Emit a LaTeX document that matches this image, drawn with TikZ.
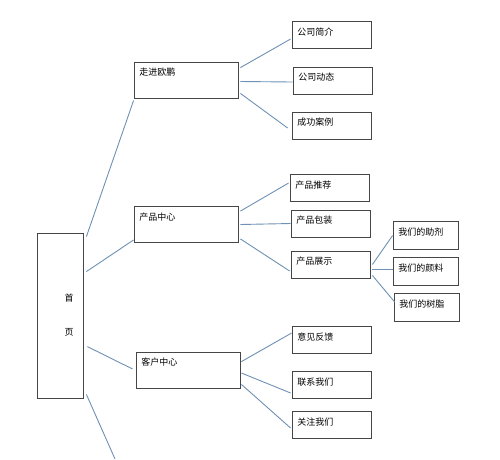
\documentclass[tikz,border=0pt]{standalone}
\usepackage{fontspec}
\setmainfont{Noto Sans CJK SC}
\usepackage{tikz}
\usetikzlibrary{calc}

\definecolor{linkblue}{RGB}{110,145,180}
\definecolor{boxgray}{RGB}{70,70,70}

\tikzset{
  box/.style={draw=boxgray,line width=0.8pt,rectangle,inner sep=0pt,
    label={[anchor=north west,inner sep=0pt,xshift=5.5pt,yshift=-6.5pt,
      font=\fontsize{9}{10}\selectfont]north west:#1}},
  main/.style={box=#1,minimum width=104pt,minimum height=36pt},
  leaf/.style={box=#1,minimum width=79pt,minimum height=27pt},
  subleaf/.style={box=#1,minimum width=65pt,minimum height=28pt},
  rootbox/.style={draw=boxgray,line width=0.8pt,rectangle,
    minimum width=46pt,minimum height=165pt},
  link/.style={draw=linkblue,line width=0.9pt}
}

\begin{document}
\begin{tikzpicture}[x=1pt,y=-1pt]
\useasboundingbox (0,0) rectangle (500,459);

% home
\node [rootbox,label={[xshift=9pt,align=center,font=\fontsize{9}{10}\selectfont]center:首\\[24pt]页}] (home) at(60,315.5){};
\coordinate (tail) at (115,459);

% first level
\node [main=走进欧鹏] (about) at(186,80){};
\node [main=产品中心] (product) at(186,224.5){};
\node [main=客户中心] (client) at(188,370){};

\node [leaf=公司简介] (intro) at(331.5,35){};
\node [leaf=公司动态] (news) at(332.5,80.5){};
\node [leaf=成功案例] (cases) at(331.5,125.5){};

\node [leaf=产品推荐] (recom) at(329.5,188){};
\node [leaf=产品包装] (pack) at(330.5,223.5){};
\node [leaf=产品展示] (show) at(330.5,264.5){};

\node [subleaf=我们的助剂] (additive) at(425.5,235.5){};
\node [subleaf=我们的颜料] (pigment) at(425.5,271.5){};
\node [subleaf=我们的树脂] (resin) at(426.5,307.5){};

\node [leaf=意见反馈] (feedback) at(331.5,340){};
\node [leaf=联系我们] (contact) at(331.5,385){};
\node [leaf=关注我们] (follow) at(331.5,425){};

% links
\draw [link] ($(home.north east)+(3,4)$) -- ($(about.south west)+(0,2)$);
\draw [link] ($(home.north east)+(3,39)$) -- ($(product.south west)+(0,-3)$);
\draw [link] ($(home.north east)+(4,114)$) -- ($(client.west)+(-3,-1)$);
\draw [link] ($(home.south east)+(3,-4)$) -- (tail);

\draw [link] ($(about.north east)+(2,6)$) -- ($(intro.west)+(-1,4)$);
\draw [link] ($(about.east)+(2,1.5)$) -- ($(news.west)+(0,1.5)$);
\draw [link] ($(about.south east)+(2,-5)$) -- ($(cases.west)+(-4,2.5)$);

\draw [link] ($(product.north east)+(2,5)$) -- ($(recom.west)+(-1,-5)$);
\draw [link] ($(product.east)+(2,0)$) -- (pack.west);
\draw [link] ($(product.south east)+(2,-4)$) -- ($(show.west)+(-1,6.5)$);

\draw [link] ($(show.east)+(2,0)$) -- (additive.west);
\draw [link] ($(show.east)+(2,4.5)$) -- ($(pigment.west)+(0,-2.5)$);
\draw [link] ($(show.south east)+(2,-3)$) -- ($(resin.west)+(1,-5.5)$);

\draw [link] ($(client.north east)+(1,10)$) -- ($(feedback.west)+(0,-7)$);
\draw [link] ($(client.east)+(1,3)$) -- ($(contact.west)+(-1,8)$);
\draw [link] ($(client.south east)+(1,-4)$) -- ($(follow.west)+(-1,3)$);
\end{tikzpicture}
\end{document}
